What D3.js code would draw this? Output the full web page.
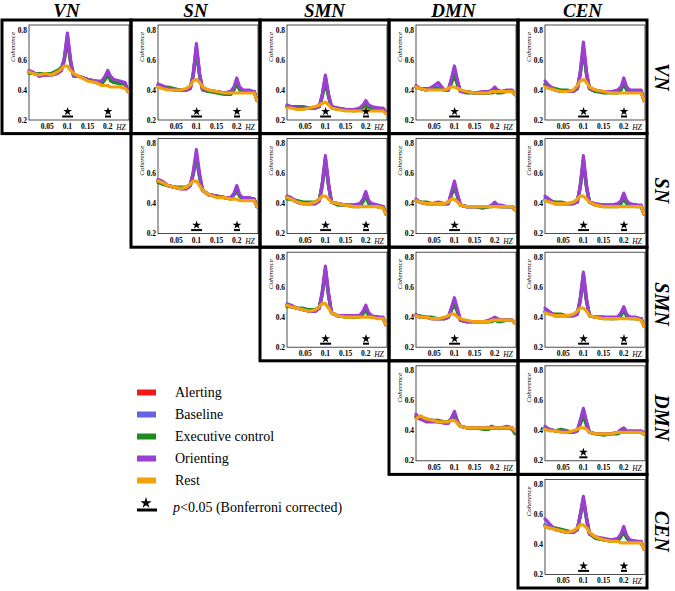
<!DOCTYPE html>
<html><head><meta charset="utf-8">
<script src="https://cdn.jsdelivr.net/npm/d3@7"></script>
<style>body{margin:0;background:#fff}</style>
</head><body><svg id="c" width="675" height="591"></svg>
<script>
const networks = ["VN","SN","SMN","DMN","CEN"];
const seriesNames = ["Alerting","Baseline","Executive control","Orienting","Rest"];
const seriesColors = ["#f01818","#6464e4","#1f8c1f","#9b3fd2","#f2a20c"];
const freqs = [0.005,0.015,0.03,0.045,0.06,0.075,0.085,0.092,0.1,0.108,0.115,0.13,0.15,0.17,0.185,0.193,0.2,0.207,0.215,0.23,0.243,0.25];
const yTicks = [0.2,0.4,0.6,0.8];
const xTicks = [0.05,0.1,0.15,0.2];

// each panel: [Alerting, Baseline, Executive control, Orienting, Rest]
const VN_VN = [
[0.52,0.51,0.50,0.50,0.50,0.51,0.53,0.59,0.74,0.58,0.50,0.49,0.47,0.46,0.45,0.47,0.51,0.47,0.45,0.45,0.44,0.39],
[0.52,0.51,0.50,0.50,0.50,0.51,0.53,0.60,0.76,0.59,0.49,0.49,0.47,0.46,0.45,0.47,0.50,0.47,0.45,0.45,0.44,0.39],
[0.51,0.51,0.51,0.51,0.51,0.53,0.55,0.60,0.73,0.58,0.50,0.49,0.47,0.45,0.44,0.47,0.50,0.46,0.45,0.44,0.44,0.39],
[0.53,0.52,0.49,0.50,0.50,0.51,0.53,0.61,0.78,0.60,0.50,0.49,0.47,0.46,0.46,0.49,0.53,0.49,0.47,0.46,0.45,0.39],
[0.52,0.51,0.50,0.51,0.50,0.52,0.54,0.56,0.56,0.53,0.51,0.49,0.46,0.45,0.43,0.43,0.43,0.42,0.42,0.42,0.41,0.39]];
const VN_SN = [
[0.43,0.42,0.41,0.40,0.40,0.40,0.41,0.50,0.68,0.50,0.40,0.39,0.39,0.38,0.39,0.41,0.46,0.41,0.39,0.39,0.39,0.33],
[0.43,0.42,0.41,0.40,0.40,0.40,0.41,0.49,0.65,0.49,0.40,0.39,0.39,0.38,0.39,0.41,0.45,0.41,0.39,0.39,0.39,0.33],
[0.42,0.42,0.42,0.41,0.40,0.40,0.42,0.50,0.68,0.50,0.41,0.39,0.38,0.37,0.37,0.40,0.44,0.40,0.39,0.39,0.39,0.33],
[0.44,0.43,0.41,0.40,0.40,0.40,0.41,0.51,0.71,0.51,0.41,0.40,0.39,0.38,0.39,0.42,0.48,0.42,0.40,0.40,0.39,0.33],
[0.42,0.41,0.40,0.40,0.40,0.41,0.43,0.46,0.47,0.45,0.42,0.40,0.39,0.38,0.38,0.38,0.38,0.38,0.38,0.38,0.38,0.33]];
const VN_SMN = [
[0.29,0.29,0.28,0.28,0.28,0.28,0.29,0.36,0.48,0.36,0.29,0.28,0.27,0.27,0.27,0.29,0.31,0.29,0.28,0.28,0.27,0.25],
[0.29,0.29,0.28,0.28,0.28,0.28,0.29,0.36,0.48,0.36,0.29,0.28,0.27,0.27,0.27,0.29,0.31,0.29,0.28,0.28,0.27,0.25],
[0.29,0.29,0.29,0.29,0.28,0.28,0.29,0.35,0.45,0.35,0.28,0.27,0.27,0.26,0.27,0.28,0.30,0.28,0.27,0.27,0.27,0.25],
[0.30,0.29,0.28,0.28,0.28,0.28,0.29,0.37,0.50,0.37,0.29,0.28,0.27,0.27,0.28,0.30,0.33,0.30,0.29,0.28,0.28,0.25],
[0.28,0.28,0.27,0.27,0.28,0.29,0.30,0.31,0.32,0.30,0.28,0.27,0.26,0.26,0.26,0.26,0.27,0.26,0.26,0.26,0.26,0.24]];
const VN_DMN = [
[0.42,0.41,0.40,0.41,0.42,0.40,0.40,0.46,0.54,0.45,0.39,0.39,0.38,0.38,0.38,0.39,0.40,0.39,0.39,0.39,0.39,0.37],
[0.42,0.41,0.40,0.41,0.42,0.40,0.40,0.46,0.55,0.45,0.39,0.39,0.38,0.38,0.38,0.39,0.40,0.39,0.39,0.39,0.39,0.37],
[0.42,0.41,0.41,0.41,0.41,0.40,0.40,0.44,0.50,0.43,0.39,0.38,0.38,0.38,0.38,0.38,0.39,0.38,0.38,0.39,0.39,0.37],
[0.43,0.41,0.40,0.42,0.45,0.40,0.40,0.47,0.56,0.46,0.39,0.39,0.38,0.39,0.39,0.40,0.42,0.40,0.39,0.40,0.40,0.37],
[0.42,0.41,0.40,0.40,0.40,0.40,0.41,0.42,0.42,0.41,0.40,0.39,0.38,0.38,0.38,0.39,0.39,0.39,0.39,0.39,0.39,0.37]];
const VN_CEN = [
[0.44,0.42,0.40,0.39,0.39,0.39,0.41,0.50,0.67,0.50,0.41,0.39,0.39,0.39,0.39,0.41,0.45,0.41,0.39,0.39,0.39,0.33],
[0.44,0.42,0.40,0.39,0.39,0.39,0.41,0.50,0.66,0.50,0.41,0.39,0.39,0.39,0.39,0.41,0.45,0.41,0.39,0.39,0.39,0.33],
[0.43,0.42,0.41,0.40,0.40,0.39,0.41,0.51,0.68,0.50,0.41,0.39,0.38,0.38,0.38,0.40,0.44,0.40,0.39,0.39,0.39,0.33],
[0.46,0.43,0.40,0.39,0.39,0.39,0.41,0.52,0.72,0.52,0.41,0.40,0.39,0.39,0.40,0.42,0.48,0.42,0.40,0.40,0.40,0.33],
[0.42,0.41,0.40,0.39,0.39,0.40,0.43,0.46,0.47,0.45,0.42,0.40,0.39,0.38,0.38,0.38,0.38,0.38,0.38,0.38,0.38,0.33]];
const SN_SN = [
[0.55,0.54,0.52,0.51,0.50,0.50,0.52,0.60,0.72,0.58,0.49,0.46,0.45,0.44,0.44,0.46,0.49,0.45,0.43,0.43,0.43,0.38],
[0.55,0.54,0.52,0.51,0.50,0.50,0.52,0.59,0.70,0.57,0.49,0.46,0.45,0.44,0.44,0.46,0.48,0.45,0.43,0.43,0.43,0.38],
[0.54,0.53,0.52,0.51,0.51,0.51,0.53,0.60,0.72,0.58,0.49,0.46,0.45,0.44,0.43,0.46,0.49,0.45,0.43,0.43,0.43,0.38],
[0.56,0.55,0.52,0.51,0.50,0.50,0.52,0.61,0.76,0.60,0.49,0.46,0.45,0.44,0.44,0.47,0.52,0.46,0.44,0.44,0.43,0.38],
[0.55,0.54,0.52,0.51,0.50,0.51,0.53,0.55,0.55,0.52,0.49,0.46,0.44,0.44,0.43,0.43,0.43,0.42,0.42,0.42,0.42,0.38]];
const SN_SMN = [
[0.44,0.43,0.41,0.40,0.40,0.40,0.42,0.52,0.69,0.52,0.41,0.40,0.39,0.39,0.39,0.42,0.46,0.41,0.39,0.38,0.38,0.33],
[0.44,0.43,0.41,0.40,0.40,0.40,0.42,0.51,0.67,0.51,0.41,0.40,0.39,0.39,0.39,0.42,0.46,0.41,0.39,0.38,0.38,0.33],
[0.43,0.43,0.42,0.41,0.41,0.41,0.43,0.53,0.70,0.52,0.41,0.39,0.39,0.38,0.38,0.41,0.45,0.40,0.39,0.38,0.38,0.33],
[0.45,0.44,0.41,0.40,0.40,0.40,0.42,0.53,0.72,0.53,0.41,0.40,0.39,0.39,0.40,0.43,0.48,0.42,0.40,0.39,0.38,0.33],
[0.44,0.43,0.41,0.40,0.40,0.41,0.43,0.45,0.45,0.43,0.41,0.40,0.39,0.38,0.38,0.38,0.38,0.38,0.38,0.38,0.37,0.33]];
const SN_DMN = [
[0.42,0.41,0.40,0.40,0.40,0.40,0.40,0.46,0.53,0.45,0.39,0.38,0.38,0.38,0.38,0.39,0.40,0.39,0.38,0.38,0.38,0.36],
[0.42,0.41,0.40,0.40,0.40,0.40,0.40,0.46,0.53,0.45,0.39,0.38,0.38,0.38,0.38,0.39,0.40,0.39,0.38,0.38,0.38,0.36],
[0.42,0.41,0.41,0.40,0.40,0.40,0.40,0.45,0.51,0.44,0.39,0.38,0.38,0.37,0.38,0.38,0.39,0.38,0.38,0.38,0.38,0.36],
[0.43,0.41,0.40,0.40,0.41,0.40,0.40,0.47,0.55,0.46,0.39,0.38,0.38,0.38,0.38,0.39,0.41,0.39,0.39,0.38,0.38,0.36],
[0.42,0.41,0.40,0.40,0.40,0.40,0.41,0.43,0.43,0.41,0.39,0.38,0.38,0.38,0.38,0.38,0.38,0.38,0.38,0.38,0.38,0.36]];
const SN_CEN = [
[0.43,0.42,0.40,0.40,0.40,0.40,0.41,0.51,0.68,0.50,0.41,0.39,0.39,0.39,0.39,0.41,0.45,0.41,0.39,0.39,0.38,0.33],
[0.43,0.42,0.40,0.40,0.40,0.40,0.41,0.50,0.66,0.50,0.41,0.39,0.39,0.39,0.39,0.41,0.44,0.41,0.39,0.39,0.38,0.33],
[0.42,0.42,0.41,0.41,0.40,0.40,0.42,0.51,0.69,0.51,0.41,0.39,0.38,0.38,0.38,0.40,0.43,0.40,0.39,0.38,0.38,0.33],
[0.45,0.43,0.40,0.40,0.40,0.40,0.41,0.52,0.72,0.52,0.41,0.40,0.39,0.39,0.40,0.42,0.47,0.42,0.40,0.39,0.39,0.33],
[0.42,0.41,0.40,0.40,0.40,0.41,0.43,0.45,0.45,0.43,0.41,0.39,0.38,0.38,0.38,0.38,0.38,0.38,0.38,0.38,0.38,0.33]];
const SMN_SMN = [
[0.48,0.47,0.46,0.45,0.44,0.44,0.46,0.55,0.71,0.54,0.43,0.41,0.41,0.40,0.41,0.43,0.46,0.42,0.40,0.40,0.39,0.35],
[0.48,0.47,0.46,0.45,0.44,0.44,0.46,0.55,0.70,0.54,0.43,0.41,0.41,0.40,0.41,0.43,0.46,0.42,0.40,0.40,0.39,0.35],
[0.47,0.47,0.46,0.46,0.45,0.45,0.47,0.56,0.72,0.55,0.43,0.41,0.40,0.40,0.40,0.42,0.45,0.41,0.40,0.40,0.39,0.35],
[0.49,0.48,0.46,0.45,0.44,0.44,0.46,0.57,0.74,0.56,0.43,0.41,0.41,0.41,0.41,0.44,0.48,0.43,0.41,0.40,0.40,0.35],
[0.48,0.47,0.46,0.45,0.44,0.45,0.47,0.49,0.49,0.46,0.43,0.41,0.40,0.40,0.40,0.40,0.40,0.40,0.40,0.39,0.39,0.35]];
const SMN_DMN = [
[0.41,0.40,0.40,0.39,0.39,0.39,0.40,0.45,0.51,0.44,0.38,0.37,0.37,0.37,0.37,0.38,0.39,0.38,0.38,0.38,0.38,0.36],
[0.41,0.40,0.40,0.39,0.39,0.39,0.40,0.45,0.51,0.44,0.38,0.37,0.37,0.37,0.37,0.38,0.39,0.38,0.38,0.38,0.38,0.36],
[0.41,0.41,0.40,0.40,0.39,0.39,0.40,0.44,0.49,0.43,0.38,0.37,0.37,0.37,0.37,0.37,0.38,0.37,0.37,0.38,0.38,0.36],
[0.42,0.40,0.40,0.39,0.39,0.39,0.40,0.46,0.53,0.45,0.38,0.37,0.37,0.37,0.38,0.39,0.40,0.39,0.38,0.38,0.38,0.36],
[0.41,0.40,0.40,0.39,0.39,0.40,0.41,0.42,0.42,0.40,0.39,0.38,0.37,0.37,0.37,0.38,0.38,0.38,0.38,0.38,0.38,0.36]];
const SMN_CEN = [
[0.44,0.43,0.41,0.41,0.41,0.41,0.42,0.51,0.67,0.50,0.41,0.40,0.40,0.39,0.40,0.42,0.45,0.41,0.40,0.39,0.39,0.34],
[0.44,0.43,0.41,0.41,0.41,0.41,0.42,0.50,0.65,0.50,0.41,0.40,0.40,0.39,0.40,0.42,0.45,0.41,0.40,0.39,0.39,0.34],
[0.43,0.43,0.42,0.42,0.41,0.41,0.43,0.52,0.69,0.51,0.41,0.40,0.39,0.39,0.39,0.41,0.44,0.41,0.39,0.39,0.39,0.34],
[0.46,0.44,0.41,0.41,0.41,0.41,0.42,0.52,0.70,0.52,0.41,0.40,0.40,0.40,0.40,0.43,0.47,0.42,0.40,0.40,0.39,0.34],
[0.43,0.42,0.41,0.41,0.41,0.42,0.44,0.46,0.46,0.44,0.41,0.40,0.39,0.39,0.39,0.39,0.39,0.39,0.39,0.39,0.38,0.34]];
const DMN_DMN = [
[0.49,0.48,0.47,0.47,0.46,0.46,0.46,0.48,0.51,0.46,0.43,0.42,0.42,0.42,0.42,0.42,0.42,0.42,0.42,0.42,0.42,0.39],
[0.50,0.48,0.47,0.47,0.46,0.46,0.46,0.48,0.52,0.46,0.43,0.42,0.42,0.42,0.42,0.43,0.42,0.42,0.42,0.42,0.42,0.39],
[0.49,0.48,0.48,0.47,0.47,0.46,0.46,0.47,0.50,0.45,0.43,0.42,0.42,0.41,0.41,0.42,0.42,0.42,0.42,0.42,0.41,0.38],
[0.51,0.48,0.46,0.46,0.46,0.45,0.45,0.48,0.53,0.46,0.43,0.42,0.42,0.42,0.42,0.43,0.42,0.42,0.42,0.43,0.42,0.39],
[0.48,0.50,0.48,0.47,0.46,0.46,0.46,0.47,0.47,0.45,0.43,0.42,0.42,0.42,0.42,0.42,0.42,0.42,0.42,0.42,0.42,0.40]];
const DMN_CEN = [
[0.42,0.41,0.40,0.40,0.39,0.39,0.40,0.46,0.53,0.45,0.39,0.38,0.38,0.38,0.39,0.40,0.41,0.39,0.39,0.39,0.39,0.38],
[0.42,0.41,0.40,0.40,0.39,0.39,0.40,0.46,0.53,0.45,0.39,0.38,0.38,0.38,0.39,0.40,0.41,0.39,0.39,0.39,0.39,0.38],
[0.41,0.41,0.40,0.41,0.40,0.39,0.40,0.44,0.50,0.43,0.39,0.38,0.37,0.38,0.38,0.39,0.40,0.39,0.39,0.39,0.39,0.38],
[0.43,0.41,0.40,0.40,0.39,0.39,0.40,0.47,0.55,0.46,0.39,0.38,0.38,0.38,0.39,0.41,0.42,0.40,0.40,0.40,0.40,0.39],
[0.41,0.40,0.40,0.39,0.39,0.40,0.41,0.42,0.42,0.41,0.39,0.38,0.38,0.38,0.39,0.39,0.39,0.39,0.39,0.39,0.39,0.38]];
const CEN_CEN = [
[0.53,0.52,0.50,0.49,0.48,0.48,0.50,0.59,0.70,0.57,0.47,0.45,0.43,0.43,0.43,0.46,0.49,0.45,0.42,0.42,0.41,0.37],
[0.53,0.52,0.50,0.49,0.48,0.48,0.50,0.58,0.69,0.56,0.47,0.45,0.43,0.43,0.43,0.46,0.49,0.45,0.42,0.42,0.41,0.37],
[0.52,0.51,0.51,0.50,0.49,0.48,0.50,0.59,0.70,0.57,0.47,0.44,0.43,0.42,0.42,0.45,0.48,0.44,0.42,0.42,0.41,0.37],
[0.57,0.54,0.50,0.49,0.48,0.48,0.50,0.60,0.72,0.58,0.47,0.45,0.44,0.43,0.44,0.47,0.52,0.46,0.43,0.42,0.42,0.37],
[0.52,0.51,0.50,0.49,0.48,0.49,0.51,0.53,0.53,0.51,0.48,0.45,0.43,0.42,0.42,0.41,0.41,0.41,0.41,0.41,0.41,0.37]];

// significance marks: [row, col, band low, band high] (Hz)
const sigMarks = [
[0,0,0.087,0.114],[0,0,0.193,0.208],
[0,1,0.087,0.114],[0,1,0.193,0.208],
[0,2,0.087,0.114],[0,2,0.193,0.208],
[0,3,0.087,0.114],
[0,4,0.087,0.114],[0,4,0.193,0.208],
[1,1,0.087,0.114],[1,1,0.193,0.208],
[1,2,0.087,0.114],[1,2,0.193,0.208],
[1,3,0.087,0.114],
[1,4,0.087,0.114],[1,4,0.193,0.208],
[2,2,0.087,0.114],[2,2,0.193,0.208],
[2,3,0.087,0.114],
[2,4,0.087,0.114],[2,4,0.193,0.208],
[3,4,0.09,0.11],
[4,4,0.087,0.114],[4,4,0.193,0.208]];

const panels = [
{row:0,col:0,data:VN_VN},{row:0,col:1,data:VN_SN},{row:0,col:2,data:VN_SMN},{row:0,col:3,data:VN_DMN},{row:0,col:4,data:VN_CEN},
{row:1,col:1,data:SN_SN},{row:1,col:2,data:SN_SMN},{row:1,col:3,data:SN_DMN},{row:1,col:4,data:SN_CEN},
{row:2,col:2,data:SMN_SMN},{row:2,col:3,data:SMN_DMN},{row:2,col:4,data:SMN_CEN},
{row:3,col:3,data:DMN_DMN},{row:3,col:4,data:DMN_CEN},
{row:4,col:4,data:CEN_CEN}];

const svg = d3.select("#c");
const X0 = 2, Y0 = 20, CW = 129, CH = 113.6;
const serif = "'Liberation Serif','Times New Roman',serif";

// column titles
svg.selectAll("text.ct").data(networks).join("text")
  .attr("x",(d,i)=>X0+i*CW+CW/2).attr("y",17)
  .attr("text-anchor","middle").attr("font-family",serif)
  .attr("font-weight","bold").attr("font-style","italic").attr("font-size",19)
  .text(d=>d);
// row titles
svg.selectAll("text.rt").data(networks).join("text")
  .attr("transform",(d,i)=>`translate(655,${Y0+i*CH+CH/2}) rotate(90)`)
  .attr("text-anchor","middle").attr("font-family",serif)
  .attr("font-weight","bold").attr("font-style","italic").attr("font-size",20)
  .text(d=>d);

const star = d3.symbol(d3.symbolStar, 24);

panels.forEach(p=>{
  const x0 = X0 + p.col*CW, y0 = Y0 + p.row*CH;
  const g = svg.append("g");
  const xs = d3.scaleLinear().domain([0,0.25]).range([x0+25,x0+126]);
  const ys = d3.scaleLinear().domain([0.2,0.8]).range([y0+100,y0+10]);
  g.append("rect").attr("x",x0+27).attr("y",y0+5).attr("width",100).attr("height",95)
    .attr("fill","none").attr("stroke","#222").attr("stroke-width",0.8);
  g.selectAll("text.yt").data(yTicks).join("text")
    .attr("x",x0+25).attr("y",d=>ys(d)+2.5).attr("text-anchor","end")
    .attr("font-family",serif).attr("font-size",7.5).attr("font-weight","bold").text(d=>d.toFixed(1));
  g.append("text").attr("transform",`translate(${x0+13},${y0+27}) rotate(-90)`)
    .attr("text-anchor","middle").attr("font-family",serif).attr("font-style","italic")
    .attr("font-size",7).text("Coherence");
  g.selectAll("text.xt").data(xTicks).join("text")
    .attr("x",d=>xs(d)).attr("y",y0+109).attr("text-anchor","middle")
    .attr("font-family",serif).attr("font-size",7.5).attr("font-weight","bold").text(d=>String(d));
  g.append("text").attr("x",x0+119).attr("y",y0+110).attr("text-anchor","middle")
    .attr("font-family",serif).attr("font-style","italic").attr("font-size",7.5).text("HZ");
  const line = d3.line().x((d,i)=>xs(freqs[i])).y(d=>ys(d));
  p.data.forEach((s,k)=>{
    g.append("path").attr("d",line(s)).attr("fill","none")
      .attr("stroke",seriesColors[k]).attr("stroke-width",3.2)
      .attr("stroke-linejoin","round").attr("stroke-linecap","round");
  });
  sigMarks.filter(m=>m[0]===p.row && m[1]===p.col).forEach(m=>{
    g.append("line").attr("x1",xs(m[2])).attr("x2",xs(m[3]))
      .attr("y1",y0+96.5).attr("y2",y0+96.5).attr("stroke","#000").attr("stroke-width",2);
    g.append("path").attr("d",star)
      .attr("transform",`translate(${(xs(m[2])+xs(m[3]))/2},${y0+91.5})`).attr("fill","#000");
  });
  svg.append("rect").attr("x",x0).attr("y",y0).attr("width",CW).attr("height",CH)
    .attr("fill","none").attr("stroke","#000").attr("stroke-width",3);
});

// legend
const lg = svg.append("g");
seriesNames.forEach((n,i)=>{
  const ly = 392.5 + i*22;
  lg.append("rect").attr("x",137).attr("y",ly-3).attr("width",19).attr("height",6).attr("fill",seriesColors[i]);
  lg.append("text").attr("x",175).attr("y",ly+4.5).attr("font-family",serif).attr("font-size",14).text(n);
});
lg.append("path").attr("d",d3.symbol(d3.symbolStar,40)).attr("transform","translate(146,503)").attr("fill","#000");
lg.append("line").attr("x1",137).attr("x2",157).attr("y1",510).attr("y2",510).attr("stroke","#000").attr("stroke-width",3);
const pt = lg.append("text").attr("x",173).attr("y",512).attr("font-family",serif).attr("font-size",14);
pt.append("tspan").attr("font-style","italic").text("p");
pt.append("tspan").text("<0.05 (Bonferroni corrected)");
</script></body></html>
